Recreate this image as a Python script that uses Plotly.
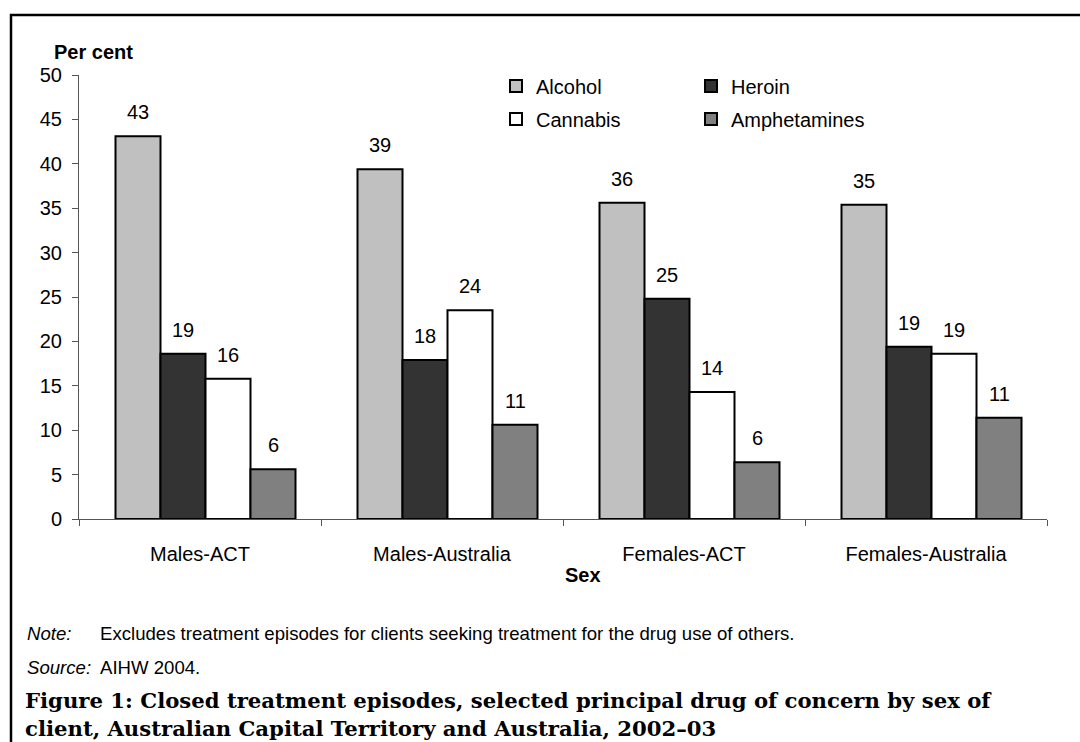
import plotly.graph_objects as go

categories = ["Males-ACT", "Males-Australia", "Females-ACT", "Females-Australia"]
series_names = ["Alcohol", "Heroin", "Cannabis", "Amphetamines"]
alcohol = [43.1, 39.4, 35.6, 35.4]
heroin = [18.6, 17.9, 24.8, 19.4]
cannabis = [15.8, 23.5, 14.3, 18.6]
amphetamines = [5.6, 10.6, 6.4, 11.4]
y_ticks = [0, 5, 10, 15, 20, 25, 30, 35, 40, 45, 50]

values = [alcohol, heroin, cannabis, amphetamines]
colors = ["#C0C0C0", "#333333", "#FFFFFF", "#808080"]

W, H = 1080, 742
L, R, T, B = 79, 33, 75, 223
PW, PH = W - L - R, H - T - B
CAT_PX = PW / len(categories)


def px_x(px):
    return (px - L) / PW


def px_y(py):
    return (H - B - py) / PH


FONT = "Liberation Sans, Arial, sans-serif"
FS = 20

bar_w_px = 45
shift_px = 5.5
bw = bar_w_px / CAT_PX
base_off = -2 * bw + shift_px / CAT_PX

fig = go.Figure()
legend_ids = ["legend", "legend2", "legend3", "legend4"]
for i, (name, vals, col) in enumerate(zip(series_names, values, colors)):
    fig.add_trace(go.Bar(
        name=name, x=categories, y=vals,
        width=bw, offset=base_off + i * bw,
        marker=dict(color=col, line=dict(color="black", width=2)),
        legend=legend_ids[i],
    ))

# data labels
for i, vals in enumerate(values):
    for c, v in zip(categories, vals):
        fig.add_annotation(
            x=c, y=v, xref="x", yref="y", text=f"{v:.0f}",
            showarrow=False, yanchor="bottom", xanchor="center",
            xshift=(i - 1.5) * bar_w_px + shift_px, yshift=11,
            font=dict(family=FONT, size=FS, color="black"),
        )

# legends positions
leg_pos = [(496, 86), (691, 86), (496, 119), (691, 119)]
layout_legends = {}
for lid, (lx, ly) in zip(legend_ids, leg_pos):
    layout_legends[lid] = dict(
        x=px_x(lx), y=px_y(ly), xanchor="left", yanchor="middle",
        bgcolor="rgba(0,0,0,0)", font=dict(family=FONT, size=FS, color="black"),
        itemwidth=30, tracegroupgap=0,
    )

fig.update_layout(
    width=W, height=H,
    margin=dict(l=L, r=R, t=T, b=B, autoexpand=False),
    paper_bgcolor="white", plot_bgcolor="white",
    barmode="overlay",
    font=dict(family=FONT, size=FS, color="black"),
    showlegend=True,
    **layout_legends,
)

fig.update_xaxes(
    type="category", showgrid=False, showline=True, linecolor="#555555", linewidth=1,
    ticks="outside", tickson="boundaries", ticklen=6, tickcolor="#555555",
    ticklabelstandoff=17, tickfont=dict(family=FONT, size=FS, color="black"),
)
fig.update_yaxes(
    range=[0, 50], tickvals=y_ticks, showgrid=False, showline=True, linecolor="#555555",
    linewidth=1, ticks="outside", ticklen=6, tickcolor="#555555", zeroline=False,
    ticklabelstandoff=6, tickfont=dict(family=FONT, size=FS, color="black"),
)

# axis titles
fig.add_annotation(x=px_x(52), y=px_y(52), xref="paper", yref="paper", text="<b>Per cent</b>",
                   showarrow=False, xanchor="left", yanchor="middle",
                   font=dict(family=FONT, size=FS, color="black"))
fig.add_annotation(x=px_x(583), y=px_y(575), xref="paper", yref="paper", text="<b>Sex</b>",
                   showarrow=False, xanchor="center", yanchor="middle",
                   font=dict(family=FONT, size=FS, color="black"))

# note & source
NS = 18.6
fig.add_annotation(x=px_x(25), y=px_y(633), xref="paper", yref="paper", text="<i>Note:</i>",
                   showarrow=False, xanchor="left", yanchor="middle",
                   font=dict(family=FONT, size=NS, color="black"))
fig.add_annotation(x=px_x(98), y=px_y(633), xref="paper", yref="paper",
                   text="Excludes treatment episodes for clients seeking treatment for the drug use of others.",
                   showarrow=False, xanchor="left", yanchor="middle",
                   font=dict(family=FONT, size=NS, color="black"))
fig.add_annotation(x=px_x(25), y=px_y(667), xref="paper", yref="paper", text="<i>Source:</i>",
                   showarrow=False, xanchor="left", yanchor="middle",
                   font=dict(family=FONT, size=NS, color="black"))
fig.add_annotation(x=px_x(98), y=px_y(667), xref="paper", yref="paper", text="AIHW 2004.",
                   showarrow=False, xanchor="left", yanchor="middle",
                   font=dict(family=FONT, size=NS, color="black"))

# figure title
fig.add_annotation(x=px_x(23), y=px_y(686), xref="paper", yref="paper",
                   text="<b>Figure 1: Closed treatment episodes, selected principal drug of concern by sex of<br>client, Australian Capital Territory and Australia, 2002–03</b>",
                   showarrow=False, xanchor="left", yanchor="top", align="left",
                   font=dict(family="DejaVu Serif, serif", size=21.2, color="black"))

# outer frame
fig.add_shape(type="rect", xref="paper", yref="paper",
              x0=px_x(11), y0=px_y(900), x1=px_x(1200), y1=px_y(15),
              line=dict(color="black", width=2.5), fillcolor="rgba(0,0,0,0)", layer="below")

fig.write_html("out.html")
